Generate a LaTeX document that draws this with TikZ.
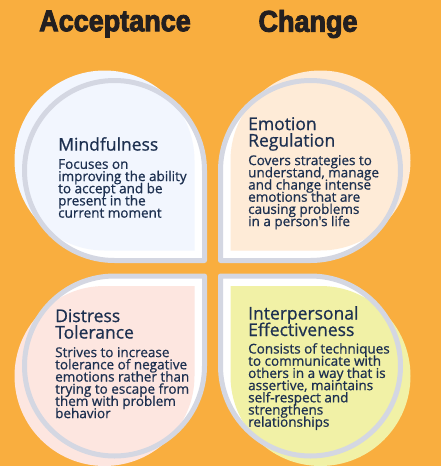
\documentclass[tikz,border=0pt]{standalone}
\usepackage{fontspec}
\usepackage{tikz}
\setmainfont{Open Sans}
\newfontfamily\semifont[FakeBold=0.8]{Open Sans}
\newfontfamily\headfont[FakeStretch=0.9,BoldFeatures={FakeBold=3}]{Liberation Sans}
\definecolor{bgorange}{HTML}{F9AE3F}
\definecolor{ringgray}{HTML}{D4D7E2}
\definecolor{navy}{HTML}{1D3050}
\definecolor{headblack}{HTML}{231F20}
\definecolor{pblue}{HTML}{F2F6FE}
\definecolor{ppeach}{HTML}{FEEBD7}
\definecolor{ppink}{HTML}{FDE6E0}
\definecolor{pyellow}{HTML}{F1F1A6}
\newcommand{\tightlines}{\lineskiplimit=-20pt\relax}
\tikzstyle{ring}=[draw=ringgray, line width=5pt, line join=round]
\tikzstyle{head}=[inner sep=0pt, text=headblack, font=\headfont\bfseries\fontsize{30}{30}\selectfont]
\tikzstyle{title}=[inner sep=0pt, anchor=north west, align=left, text=navy, font=\semifont\fontsize{17.5}{16.5}\selectfont\tightlines]
\tikzstyle{body}=[inner sep=0pt, anchor=north west, align=left, text=navy, font=\semifont\fontsize{13.5}{12.2}\selectfont\tightlines]
% petal outline: circle of radius 90 with the (+,+) quarter squared off
\newcommand{\petalpath}{(90,0) -- (90,90) -- (0,90) .. controls (-49.7,90) and (-90,49.7) .. (-90,0) .. controls (-90,-49.7) and (-49.7,-90) .. (0,-90) .. controls (49.7,-90) and (90,-49.7) .. (90,0) -- cycle}
\newcommand{\petal}[5]{%
  \begin{scope}[shift={(#1,#2)}, xscale=#3, yscale=#4]
    \fill[white] \petalpath;
    \fill[#5, shift={(-10,-10)}] \petalpath;
    \draw[ring] \petalpath;
  \end{scope}}

\begin{document}
\begin{tikzpicture}[x=1pt, y=-1pt]
				\useasboundingbox (0,0) rectangle (441,466);
				\fill[bgorange] (0,0) rectangle (441,466);
				
				%The headers
				\draw (115,24) node[head] (acc) {Acceptance};
				\draw (308,24) node[head] (chg) {Change};
				
				%The petals
				\petal{114.5}{170.5}{1}{1}{pblue}
				\petal{310.5}{170.5}{-1}{1}{ppeach}
				\petal{114.5}{366}{1}{-1}{ppink}
				\petal{310.5}{366}{-1}{-1}{pyellow}
				
				%Mindfulness
				\draw (58,137) node[title] (m1) {Mindfulness};
				\draw (58,159) node[body] (m2) {Focuses on\\improving the ability\\to accept and be\\present in the\\current moment};
				
				%Emotion regulation
				\draw (248,117) node[title] (e1) {Emotion\\Regulation};
				\draw (248,155) node[body] (e2) {Covers strategies to\\understand, manage\\and change intense\\emotions that are\\causing problems\\in a person's life};
				
				%Distress tolerance
				\draw (55,309) node[title] (d1) {Distress\\Tolerance};
				\draw (55,347) node[body] (d2) {Strives to increase\\tolerance of negative\\emotions rather than\\trying to escape from\\them with problem\\behavior};
				
				%Interpersonal effectiveness
				\draw (248,306) node[title] (i1) {Interpersonal\\Effectiveness};
				\draw (248,343) node[body] (i2) {Consists of techniques\\to communicate with\\others in a way that is\\assertive, maintains\\self-respect and\\strengthens\\relationships};
			\end{tikzpicture}
\end{document}
